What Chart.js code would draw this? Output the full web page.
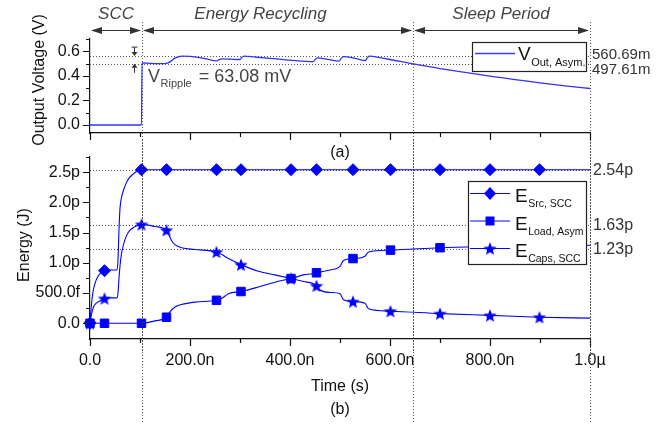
<!DOCTYPE html>
<html>
<head>
<meta charset="utf-8">
<script src="https://cdn.jsdelivr.net/npm/chart.js@4.4.1/dist/chart.umd.min.js"></script>
<style>
  html, body { margin: 0; padding: 0; background: #fff; }
  #wrap { position: relative; width: 665px; height: 424px; }
  #wrap canvas { position: absolute; left: 0; top: 0; }
</style>
</head>
<body>
<div id="wrap">
  <canvas id="energyChart" width="665" height="424"></canvas>
  <canvas id="voltChart" width="665" height="424"></canvas>
</div>
<script>
// ---- axes (time in ns) ----
const xTicks = [0, 200, 400, 600, 800, 1000];
const xTickLabels = ['0.0', '200.0n', '400.0n', '600.0n', '800.0n', '1.0\u00b5'];
const xMinor = [100, 300, 500, 700, 900];
const vTicks = [0, 0.2, 0.4, 0.6];
const vTickLabels = ['0.0', '0.2', '0.4', '0.6'];
const vMinor = [0.1, 0.3, 0.5, 0.7];
const eTicks = [0, 0.5, 1, 1.5, 2, 2.5];
const eTickLabels = ['0.0', '500.0f', '1.0p', '1.5p', '2.0p', '2.5p'];
const eMinor = [0.25, 0.75, 1.25, 1.75, 2.25, 2.75];

// ---- phases ----
const phaseBounds = [0, 104, 646, 1000];
const phaseNames = ['SCC', 'Energy Recycling', 'Sleep Period'];

// ---- (a) output voltage ----
const vOutT = [0, 103, 104, 120, 150, 156, 162, 168, 175, 185, 200, 230, 253, 258, 264, 280, 300, 303, 308, 330, 360, 400, 447, 450, 455, 475, 498, 502, 507, 530, 551, 554, 559, 580, 610, 646, 700, 750, 800, 850, 900, 950, 1000];
const vOut  = [0, 0, 0.505, 0.502, 0.499, 0.505, 0.52, 0.54, 0.553, 0.56, 0.559, 0.54, 0.522, 0.532, 0.538, 0.536, 0.533, 0.548, 0.56, 0.553, 0.543, 0.528, 0.516, 0.532, 0.546, 0.535, 0.52, 0.54, 0.556, 0.543, 0.525, 0.545, 0.56, 0.548, 0.525, 0.4976, 0.459, 0.428, 0.397, 0.370, 0.343, 0.319, 0.297];
const rippleLevels = [0.56069, 0.49761];
const rippleLabels = ['560.69m', '497.61m'];

// ---- (b) energies (pJ) ----
const markT = [0, 29, 103, 153, 253, 302, 402, 453, 526, 601, 700, 800, 899];
const srcT = [0, 3, 6, 10, 15, 20, 29, 40, 54, 56, 58, 60, 63, 67, 72, 78, 85, 93, 103, 153, 253, 302, 402, 453, 526, 601, 700, 800, 899, 1000];
const srcE = [0, 0.32, 0.52, 0.66, 0.76, 0.82, 0.87, 0.88, 0.88, 1.05, 1.55, 1.9, 2.08, 2.2, 2.31, 2.4, 2.46, 2.51, 2.54, 2.54, 2.54, 2.54, 2.54, 2.54, 2.54, 2.54, 2.54, 2.54, 2.54, 2.54];
const loadT = [0, 29, 103, 130, 153, 160, 170, 183, 210, 253, 263, 277, 302, 337, 370, 402, 427, 445, 453, 480, 500, 507, 526, 550, 557, 601, 700, 800, 899, 1000];
const loadE = [0, 0, 0, 0.04, 0.10, 0.19, 0.27, 0.31, 0.35, 0.38, 0.41, 0.49, 0.525, 0.60, 0.68, 0.74, 0.80, 0.82, 0.835, 0.88, 0.94, 1.04, 1.07, 1.11, 1.18, 1.21, 1.25, 1.27, 1.285, 1.29];
const capsT = [0, 3, 7, 12, 20, 29, 40, 54, 56, 58, 60, 63, 67, 73, 80, 88, 103, 130, 153, 158, 163, 170, 183, 210, 253, 263, 277, 302, 337, 370, 402, 427, 445, 453, 460, 480, 500, 507, 526, 550, 557, 601, 700, 800, 899, 1000];
const capsE = [0, 0.15, 0.27, 0.33, 0.37, 0.41, 0.42, 0.42, 0.5, 0.75, 0.95, 1.15, 1.3, 1.45, 1.54, 1.59, 1.635, 1.60, 1.54, 1.46, 1.37, 1.30, 1.25, 1.22, 1.18, 1.14, 1.07, 0.97, 0.86, 0.80, 0.74, 0.69, 0.66, 0.62, 0.55, 0.51, 0.49, 0.39, 0.36, 0.33, 0.24, 0.20, 0.16, 0.13, 0.10, 0.085];
const eLevels = [2.54, 1.63, 1.23];
const eLevelLabels = ['2.54p', '1.63p', '1.23p'];
const seriesNames = ['Src, SCC', 'Load, Asym', 'Caps, SCC'];

const FONT = "'Liberation Sans', Arial, sans-serif";
const BLUE = '#0000ff';
const INK = '#111';
const GREY = '#444';
Chart.defaults.font.family = FONT;
Chart.defaults.font.size = 16;
Chart.defaults.color = INK;
Chart.defaults.animation = false;

function makeStar(outer, inner) {
  const c = document.createElement('canvas');
  const s = Math.ceil(outer * 2 + 2);
  c.width = s; c.height = s;
  const g = c.getContext('2d');
  g.translate(s / 2, s / 2 + outer * 0.1);
  g.beginPath();
  for (let i = 0; i < 10; i++) {
    const r = i % 2 ? inner : outer;
    const ang = -Math.PI / 2 + i * Math.PI / 5;
    g.lineTo(r * Math.cos(ang), r * Math.sin(ang));
  }
  g.closePath();
  g.fillStyle = BLUE;
  g.fill();
  return c;
}
const STAR = makeStar(7, 3);

function txt(ctx, s, x, y, font, color, align) {
  ctx.font = font;
  ctx.fillStyle = color;
  ctx.textAlign = align || 'left';
  ctx.textBaseline = 'alphabetic';
  ctx.fillText(s, x, y);
}
function subTxt(ctx, main, sub, x, y, big, small, color, drop) {
  txt(ctx, main, x, y, big, color);
  const w = ctx.measureText(main).width;
  txt(ctx, sub, x + w + 0.5, y + drop, small, color);
  return w + ctx.measureText(sub).width + 0.5;
}
function dotted(ctx, x1, y1, x2, y2) {
  ctx.save();
  ctx.strokeStyle = '#555';
  ctx.lineWidth = 1;
  ctx.setLineDash([1, 2]);
  ctx.beginPath();
  ctx.moveTo(x1, y1);
  ctx.lineTo(x2, y2);
  ctx.stroke();
  ctx.restore();
}
function head(ctx, x, y, dx, dy, len, half) {
  // tip at (x,y), pointing along (dx,dy)
  ctx.beginPath();
  ctx.moveTo(x, y);
  ctx.lineTo(x - dx * len - dy * half, y - dy * len - dx * half);
  ctx.lineTo(x - dx * len + dy * half, y - dy * len + dx * half);
  ctx.closePath();
  ctx.fill();
}
function drawTicks(chart, yMajor, yMinor) {
  const { ctx, chartArea: a, scales: { x, y } } = chart;
  ctx.save();
  ctx.strokeStyle = INK;
  ctx.lineWidth = 1.2;
  ctx.beginPath();
  xTicks.concat(xMinor).forEach(v => {
    const px = Math.round(x.getPixelForValue(v)) + 0.5;
    ctx.moveTo(px, a.bottom);
    ctx.lineTo(px, a.bottom + (xTicks.includes(v) ? 7 : 4));
  });
  yMajor.concat(yMinor).forEach(v => {
    const py = Math.round(y.getPixelForValue(v)) + 0.5;
    ctx.moveTo(a.left, py);
    ctx.lineTo(a.left - (yMajor.includes(v) ? 7 : 4), py);
  });
  ctx.stroke();
  ctx.restore();
}
function phaseLines(chart, y1, y2) {
  const x = chart.scales.x;
  phaseBounds.slice(1).forEach(t => {
    const px = Math.round(x.getPixelForValue(t)) + 0.5;
    dotted(chart.ctx, px, y1, px, y2);
  });
}

function xScale(showLabels) {
  return {
    type: 'linear', min: 0, max: 1000,
    afterBuildTicks: s => { s.ticks = xTicks.map(v => ({ value: v })); },
    afterFit: s => { s.height = showLabels ? 40 : 10; },
    grid: { display: false, drawTicks: false },
    border: { display: true, color: INK, width: 1.2 },
    ticks: { display: showLabels, padding: 12, maxRotation: 0, autoSkip: false, color: INK,
      callback: (v, i) => xTickLabels[i] }
  };
}
function yScale(min, max, ticks, labels) {
  return {
    type: 'linear', min: min, max: max,
    afterBuildTicks: s => { s.ticks = ticks.map(v => ({ value: v })); },
    afterFit: s => { s.width = 90; },
    grid: { display: false, drawTicks: false },
    border: { display: true, color: INK, width: 1.2 },
    ticks: { padding: 10, autoSkip: false, color: INK, callback: (v, i) => labels[i] }
  };
}

// ---------- (a) ----------
const voltPlugin = {
  id: 'voltDeco',
  beforeDatasetsDraw(chart) {
    const { ctx, chartArea: a, scales: { y } } = chart;
    rippleLevels.forEach(v => {
      const py = Math.round(y.getPixelForValue(v)) + 0.5;
      dotted(ctx, a.left, py, a.right, py);
    });
    phaseLines(chart, 22, 424);
  },
  afterDraw(chart) {
    const { ctx, chartArea: a, scales: { x, y } } = chart;
    drawTicks(chart, vTicks, vMinor);
    ctx.save();
    // phase arrows + names
    ctx.strokeStyle = '#333';
    ctx.fillStyle = '#333';
    ctx.lineWidth = 1;
    const labelAt = [52, 341, 822];
    for (let i = 0; i < 3; i++) {
      const x1 = x.getPixelForValue(phaseBounds[i]);
      const x2 = x.getPixelForValue(phaseBounds[i + 1]);
      ctx.beginPath();
      ctx.moveTo(x1 + 2, 30.5);
      ctx.lineTo(x2 - 2, 30.5);
      ctx.stroke();
      ctx.fillStyle = '#333';
      head(ctx, x1 + 1, 30.5, -1, 0, 11, 3.5);
      head(ctx, x2 - 1, 30.5, 1, 0, 11, 3.5);
      txt(ctx, phaseNames[i], x.getPixelForValue(labelAt[i]), 19, 'italic 17px ' + FONT, GREY, 'center');
    }
    // ripple arrows
    const ax = Math.round(x.getPixelForValue(88)) + 0.5;
    const yHi = y.getPixelForValue(rippleLevels[0]);
    const yLo = y.getPixelForValue(rippleLevels[1]);
    ctx.strokeStyle = '#333';
    ctx.fillStyle = '#333';
    ctx.beginPath();
    ctx.moveTo(ax, yHi - 9); ctx.lineTo(ax, yHi - 3);
    ctx.moveTo(ax - 3, yHi - 9); ctx.lineTo(ax + 3, yHi - 9);
    ctx.moveTo(ax, yLo + 9); ctx.lineTo(ax, yLo + 3);
    ctx.stroke();
    head(ctx, ax, yHi, 0, 1, 4, 3);
    head(ctx, ax, yLo, 0, -1, 4, 3);
    const w = subTxt(ctx, 'V', 'Ripple', 148, 82, '18px ' + FONT, '11px ' + FONT, GREY, 5);
    txt(ctx, ' = 63.08 mV', 148 + w + 2, 82, '18px ' + FONT, GREY);
    // right-hand values
    txt(ctx, rippleLabels[0], a.right + 2, 59, '15px ' + FONT, '#333');
    txt(ctx, rippleLabels[1], a.right + 2, 73.5, '15px ' + FONT, '#333');
    // legend
    const lx = a.right - 118, ly = 42, lw = 114, lh = 29;
    ctx.fillStyle = '#fff';
    ctx.fillRect(lx, ly, lw, lh);
    ctx.strokeStyle = '#222';
    ctx.lineWidth = 1.2;
    ctx.strokeRect(lx + 0.5, ly + 0.5, lw, lh);
    ctx.strokeStyle = 'rgb(60,60,255)';
    ctx.lineWidth = 1.5;
    ctx.beginPath();
    ctx.moveTo(lx + 3, ly + 11.5);
    ctx.lineTo(lx + 43, ly + 11.5);
    ctx.stroke();
    subTxt(ctx, 'V', 'Out, Asym.', lx + 46, ly + 18, '19px ' + FONT, '11px ' + FONT, INK, 6);
    // axis title + panel tag
    ctx.translate(38, 80);
    ctx.rotate(-Math.PI / 2);
    txt(ctx, 'Output Voltage (V)', 0, 6, '16px ' + FONT, INK, 'center');
    ctx.restore();
    txt(chart.ctx, '(a)', (a.left + a.right) / 2, 157, '16px ' + FONT, INK, 'center');
  }
};

new Chart(document.getElementById('voltChart'), {
  type: 'line',
  data: {
    datasets: [{
      label: 'V Out, Asym.',
      data: vOutT.map((t, i) => ({ x: t, y: vOut[i] })),
      borderColor: 'rgb(50,50,255)',
      borderWidth: 1.3,
      pointRadius: 0,
      cubicInterpolationMode: 'monotone'
    }]
  },
  options: {
    responsive: false,
    layout: { padding: { left: 0, right: 75, top: 39, bottom: 281 } },
    plugins: { legend: { display: false }, tooltip: { enabled: false } },
    scales: { x: xScale(false), y: yScale(-0.065, 0.7, vTicks, vTickLabels) }
  },
  plugins: [voltPlugin]
});

// ---------- (b) ----------
function series(name, T, E, style, r) {
  return {
    label: name,
    data: T.map((t, i) => ({ x: t, y: E[i] })),
    borderColor: BLUE,
    borderWidth: 1.1,
    backgroundColor: BLUE,
    pointStyle: style,
    pointBorderColor: BLUE,
    pointBackgroundColor: BLUE,
    pointBorderWidth: 1,
    pointRadius: c => (c.raw && markT.includes(c.raw.x)) ? r : 0,
    cubicInterpolationMode: 'monotone',
    clip: false
  };
}

const energyPlugin = {
  id: 'energyDeco',
  beforeDatasetsDraw(chart) {
    const { ctx, chartArea: a, scales: { y } } = chart;
    eLevels.forEach(v => {
      const py = Math.round(y.getPixelForValue(v)) + 0.5;
      dotted(ctx, a.left, py, a.right, py);
    });
    phaseLines(chart, 140, 352);
  },
  afterDraw(chart) {
    const { ctx, chartArea: a, scales: { y } } = chart;
    drawTicks(chart, eTicks, eMinor);
    ctx.save();
    eLevels.forEach((v, i) => {
      txt(ctx, eLevelLabels[i], a.right + 3, y.getPixelForValue(v) + 5, '16px ' + FONT, '#333');
    });
    // legend
    const lx = a.right - 122, ly = 181, lw = 118, lh = 83;
    ctx.fillStyle = '#fff';
    ctx.fillRect(lx, ly, lw, lh);
    ctx.strokeStyle = '#222';
    ctx.lineWidth = 1.2;
    ctx.strokeRect(lx + 0.5, ly + 0.5, lw, lh);
    const rows = [ly + 12.5, ly + 40, ly + 67.5];
    rows.forEach((ry, i) => {
      const mx = lx + 22;
      ctx.strokeStyle = BLUE;
      ctx.lineWidth = 1.1;
      ctx.beginPath();
      ctx.moveTo(lx + 2, ry);
      ctx.lineTo(lx + 42, ry);
      ctx.stroke();
      ctx.fillStyle = BLUE;
      if (i === 0) {
        ctx.beginPath();
        ctx.moveTo(mx, ry - 6.5); ctx.lineTo(mx + 6, ry); ctx.lineTo(mx, ry + 6.5); ctx.lineTo(mx - 6, ry);
        ctx.closePath();
        ctx.fill();
      } else if (i === 1) {
        ctx.fillRect(mx - 4.5, ry - 4.5, 9, 9);
      } else {
        ctx.drawImage(STAR, mx - STAR.width / 2, ry - STAR.height / 2);
      }
      subTxt(ctx, 'E', seriesNames[i], lx + 47, ry + 8.5, '19px ' + FONT, '10.5px ' + FONT, INK, 5);
    });
    ctx.translate(23, 245);
    ctx.rotate(-Math.PI / 2);
    txt(ctx, 'Energy (J)', 0, 6, '16px ' + FONT, INK, 'center');
    ctx.restore();
    const cx = (a.left + a.right) / 2;
    txt(ctx, 'Time (s)', cx, 391, '16px ' + FONT, INK, 'center');
    txt(ctx, '(b)', cx, 414, '16px ' + FONT, INK, 'center');
  }
};

new Chart(document.getElementById('energyChart'), {
  type: 'line',
  data: {
    datasets: [
      series(seriesNames[0], srcT, srcE, 'rectRot', 6),
      series(seriesNames[1], loadT, loadE, 'rect', 6),
      series(seriesNames[2], capsT, capsE, STAR, 5)
    ]
  },
  options: {
    responsive: false,
    layout: { padding: { left: 0, right: 75, top: 157, bottom: 45 } },
    plugins: { legend: { display: false }, tooltip: { enabled: false } },
    scales: { x: xScale(true), y: yScale(-0.26, 2.75, eTicks, eTickLabels) }
  },
  plugins: [energyPlugin]
});
</script>
</body>
</html>
